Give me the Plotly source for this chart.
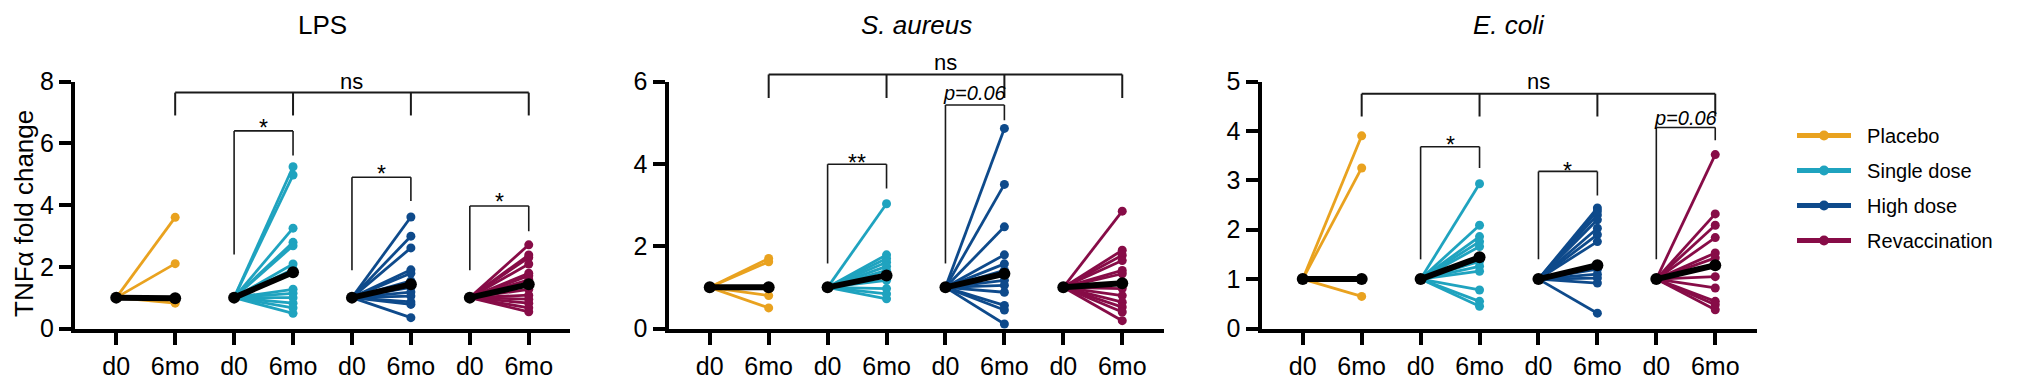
import plotly.graph_objects as go

# ---------------- data ----------------
groups = ["Placebo", "Single dose", "High dose", "Revaccination"]
colors = ["#E9A21F", "#1FA3BF", "#0E4A8B", "#870C47"]
timepoints = ["d0", "6mo"]
panel_titles = ["LPS", "<i>S. aureus</i>", "<i>E. coli</i>"]
y_title = "TNFα fold change"
y_max = [8, 6, 5]
y_dtick = [2, 2, 1]

baseline = 1.0  # d0 fold change (normalised)

lps_placebo = [3.6, 2.1, 0.95, 0.82]
lps_single = [5.24, 4.97, 3.25, 2.79, 2.68, 2.09, 1.92, 1.27, 1.14, 1.0, 0.82, 0.67, 0.49]
lps_high = [3.61, 2.99, 2.61, 1.90, 1.79, 1.54, 1.33, 1.18, 1.05, 0.86, 0.78, 0.35]
lps_revacc = [2.71, 2.38, 2.30, 2.09, 1.79, 1.71, 1.58, 1.27, 1.08, 0.95, 0.82, 0.67, 0.54]
lps_mean = [0.98, 1.82, 1.43, 1.43]

sa_placebo = [1.7, 1.62, 1.0, 0.8, 0.5]
sa_single = [3.03, 1.79, 1.70, 1.61, 1.51, 1.41, 1.17, 0.97, 0.84, 0.72]
sa_high = [4.86, 3.50, 2.47, 1.79, 1.57, 1.41, 1.17, 1.05, 0.88, 0.56, 0.45, 0.11]
sa_revacc = [2.85, 1.90, 1.78, 1.65, 1.41, 1.33, 0.97, 0.80, 0.64, 0.52, 0.40, 0.19]
sa_mean = [1.0, 1.29, 1.33, 1.10]

ec_placebo = [3.9, 3.25, 1.0, 0.65]
ec_single = [2.93, 2.09, 1.86, 1.76, 1.66, 1.36, 1.26, 1.16, 0.78, 0.55, 0.45]
ec_high = [2.44, 2.38, 2.30, 2.20, 2.03, 1.90, 1.76, 1.20, 1.10, 1.02, 0.92, 0.31]
ec_revacc = [3.52, 2.32, 2.09, 1.84, 1.53, 1.43, 1.05, 0.82, 0.55, 0.48, 0.38]
ec_mean = [1.0, 1.44, 1.28, 1.28]

panel_data = [
    [lps_placebo, lps_single, lps_high, lps_revacc],
    [sa_placebo, sa_single, sa_high, sa_revacc],
    [ec_placebo, ec_single, ec_high, ec_revacc],
]
panel_means = [lps_mean, sa_mean, ec_mean]

# significance brackets (data units)
ns_top = [7.64, 6.17, 4.75]
ns_drop = [6.9, 5.6, 4.29]
ns_label_y = [8.0, 6.45, 4.99]
# (panel, group, top, left bottom, right bottom, label, label y)
pair_brackets = [
    (0, 1, 6.40, 2.40, 5.60, "*", 6.70),
    (0, 2, 4.90, 1.89, 4.13, "*", 5.20),
    (0, 3, 3.97, 1.89, 3.15, "*", 4.30),
    (1, 1, 3.99, 1.58, 3.40, "**", 4.17),
    (1, 2, 5.43, 1.58, 5.06, "<i>p=0.06</i>", 5.71),
    (2, 1, 3.68, 1.40, 3.25, "*", 3.83),
    (2, 2, 3.18, 1.40, 2.69, "*", 3.30),
    (2, 3, 4.07, 1.40, 3.81, "<i>p=0.06</i>", 4.27),
]

# ---------------- layout constants ----------------
# the page body has an 8px margin, so the figure is 2010x373 placed at (8, 8)
OFF = 8
W, H = 2018 - OFF, 381 - OFF
FONT = "Liberation Sans, Arial, Helvetica, sans-serif"
x_dom_px = [(75 - OFF, 570 - OFF), (668.5 - OFF, 1163.5 - OFF), (1261.5 - OFF, 1756.5 - OFF)]
y_dom = [1 - (328.5 - OFF) / H, 1 - (81.5 - OFF) / H]

fig = go.Figure()

for p in range(3):
    xa = "x" if p == 0 else f"x{p+1}"
    ya = "y" if p == 0 else f"y{p+1}"
    for g, vals in enumerate(panel_data[p]):
        xs, ys = [], []
        for v in vals:
            xs += [2 * g, 2 * g + 1, None]
            ys += [baseline, v, None]
        fig.add_trace(go.Scatter(
            x=xs, y=ys, xaxis=xa, yaxis=ya, mode="lines+markers",
            line=dict(color=colors[g], width=2.8),
            marker=dict(color=colors[g], size=9),
            showlegend=False, hoverinfo="skip", cliponaxis=False,
        ))
    xs, ys = [], []
    for g, m in enumerate(panel_means[p]):
        xs += [2 * g, 2 * g + 1, None]
        ys += [baseline, m, None]
    fig.add_trace(go.Scatter(
        x=xs, y=ys, xaxis=xa, yaxis=ya, mode="lines+markers",
        line=dict(color="black", width=6),
        marker=dict(color="black", size=12),
        showlegend=False, hoverinfo="skip", cliponaxis=False,
    ))

# legend entries
for g, name in enumerate(groups):
    fig.add_trace(go.Scatter(
        x=[None], y=[None], mode="lines+markers", name="\u00a0\u00a0" + name,
        line=dict(color=colors[g], width=5), marker=dict(color=colors[g], size=10),
        legendgroup=name,
    ))

axis_common = dict(showline=True, linewidth=4, linecolor="black", ticks="outside",
                   ticklen=12, tickwidth=4, tickcolor="black", showgrid=False,
                   zeroline=False, automargin=False,
                   tickfont=dict(family=FONT, size=25, color="black"))

layout = dict(
    width=W, height=H, margin=dict(l=0, r=0, t=0, b=0, autoexpand=False),
    plot_bgcolor="white", paper_bgcolor="white",
    font=dict(family=FONT, color="black"),
    legend=dict(x=(1792 - OFF) / W, y=1 - (116 - OFF) / H, xanchor="left", yanchor="top",
                font=dict(family=FONT, size=20, color="black"),
                itemwidth=54, tracegroupgap=6, bgcolor="rgba(0,0,0,0)"),
)
shapes, annotations = [], []
for p in range(3):
    sx = "" if p == 0 else str(p + 1)
    layout["xaxis" + sx] = dict(axis_common, domain=[x_dom_px[p][0] / W, x_dom_px[p][1] / W],
                                anchor="y" + sx, range=[-0.7, 7.7],
                                tickvals=list(range(8)), ticktext=timepoints * 4)
    layout["yaxis" + sx] = dict(axis_common, domain=y_dom, anchor="x" + sx,
                                range=[0, y_max[p]], dtick=y_dtick[p], tick0=0)
    xr, yr = "x" + sx, "y" + sx + " domain"
    ym = y_max[p]
    # title
    annotations.append(dict(text=panel_titles[p], xref="x" + sx + " domain", x=0.5,
                            yref="paper", y=1 - (25 - OFF) / H, yanchor="middle", showarrow=False,
                            font=dict(family=FONT, size=26, color="black")))
    # top ns bracket
    line_ns = dict(color="#1a1a1a", width=2)
    shapes.append(dict(type="line", xref=xr, yref=yr, x0=1, x1=7, y0=ns_top[p] / ym, y1=ns_top[p] / ym, line=line_ns))
    for xv in (1, 3, 5, 7):
        shapes.append(dict(type="line", xref=xr, yref=yr, x0=xv, x1=xv,
                           y0=ns_top[p] / ym, y1=ns_drop[p] / ym, line=line_ns))
    annotations.append(dict(text="ns", xref=xr, x=4, yref=yr, y=ns_label_y[p] / ym,
                            showarrow=False, yanchor="middle",
                            font=dict(family=FONT, size=22, color="black")))

for (p, g, top, lb, rb, lab, ly) in pair_brackets:
    sx = "" if p == 0 else str(p + 1)
    xr, yr = "x" + sx, "y" + sx + " domain"
    ym = y_max[p]
    ln = dict(color="#1a1a1a", width=1.6)
    x0, x1 = 2 * g, 2 * g + 1
    shapes.append(dict(type="line", xref=xr, yref=yr, x0=x0, x1=x1, y0=top / ym, y1=top / ym, line=ln))
    shapes.append(dict(type="line", xref=xr, yref=yr, x0=x0, x1=x0, y0=top / ym, y1=lb / ym, line=ln))
    shapes.append(dict(type="line", xref=xr, yref=yr, x0=x1, x1=x1, y0=top / ym, y1=rb / ym, line=ln))
    is_star = "*" in lab
    annotations.append(dict(text=lab, xref=xr, x=(x0 + x1) / 2, yref=yr, y=ly / ym,
                            showarrow=False, yanchor="middle", yshift=-6 if is_star else 0,
                            font=dict(family=FONT, size=23 if is_star else 20, color="black")))

# y-axis title (slightly below the axis centre, as in the reference)
annotations.append(dict(text=y_title, xref="paper", x=0, xanchor="left",
                        yref="paper", y=1 - (214 - OFF) / H, yanchor="middle",
                        textangle=-90, showarrow=False, borderpad=0,
                        font=dict(family=FONT, size=26, color="black")))

layout["shapes"] = shapes
layout["annotations"] = annotations
fig.update_layout(**layout)

fig.write_html("out.html")
